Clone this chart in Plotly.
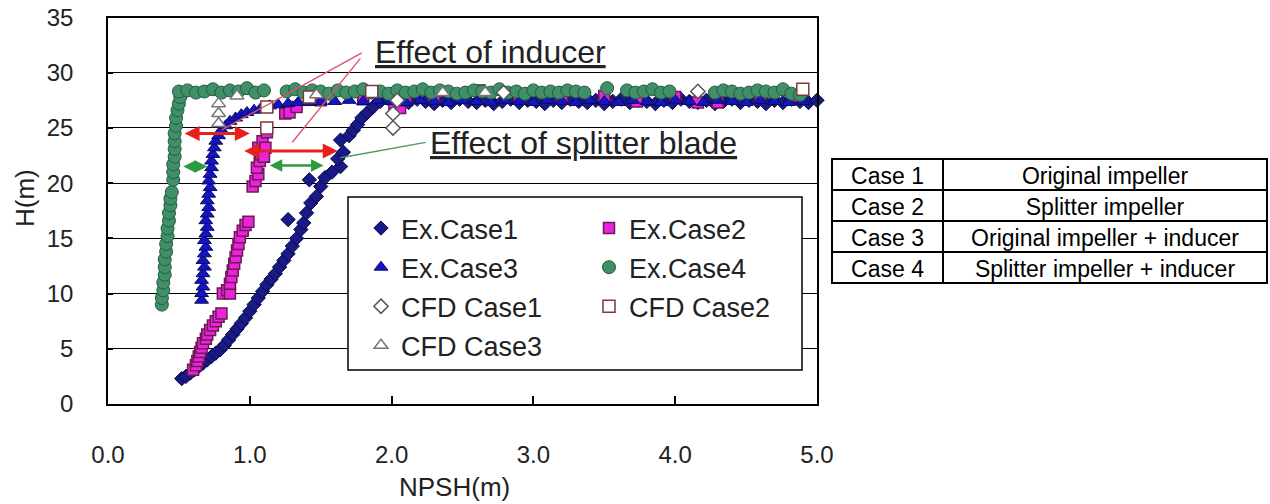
import plotly.graph_objects as go

W, H = 1270, 504
FONT = "Liberation Sans, Arial, sans-serif"

# ---------------- data ----------------
ex1_x = [0.52, 0.55, 0.58, 0.61, 0.64, 0.67, 0.70, 0.73, 0.76, 0.79,
         0.82, 0.85, 0.88, 0.91, 0.94, 0.97, 1.00, 1.03, 1.06, 1.09,
         1.12, 1.15, 1.18, 1.21, 1.24, 1.27, 1.30, 1.33, 1.27, 1.36,
         1.38, 1.40, 1.43, 1.47, 1.42, 1.50, 1.53, 1.58, 1.64, 1.62,
         1.66, 1.64, 1.70, 1.73, 1.76, 1.79, 1.83, 1.87, 1.92, 1.97,
         2.02, 2.06, 2.12, 2.18, 2.24, 2.30, 2.36, 2.42, 2.48, 2.54,
         2.60, 2.66, 2.72, 2.78, 2.84, 2.90, 2.96, 3.02, 3.08, 3.14,
         3.20, 3.26, 3.32, 3.38, 3.44, 3.50, 3.56, 3.62, 3.68, 3.74,
         3.80, 3.86, 3.92, 3.98, 4.04, 4.10, 4.16, 4.22, 4.28, 4.34,
         4.40, 4.46, 4.52, 4.58, 4.64, 4.70, 4.76, 4.82, 4.88, 4.94,
         5.00]
ex1_h = [2.3, 2.5, 2.8, 3.1, 3.4, 3.7, 4.0, 4.3, 4.6, 4.9,
         5.3, 5.8, 6.3, 6.8, 7.3, 7.8, 8.4, 9.0, 9.6, 10.2,
         10.8, 11.3, 11.8, 12.4, 13.0, 13.6, 14.3, 15.0, 16.7, 15.8,
         16.4, 17.3, 18.2, 18.8, 20.3, 19.7, 20.5, 21.0, 21.5, 22.2,
         22.8, 23.9, 24.3, 24.8, 25.3, 25.9, 26.4, 26.9, 27.4, 27.7,
         27.9, 27.5, 27.3, 27.6, 27.4, 27.2, 27.5, 27.3, 27.6, 27.4,
         27.3, 27.5, 27.2, 27.4, 27.6, 27.3, 27.5, 27.4, 27.2, 27.5,
         27.3, 27.6, 27.4, 27.3, 27.5, 27.2, 27.4, 27.6, 27.3, 27.5,
         27.4, 27.2, 27.5, 27.3, 27.6, 27.4, 27.3, 27.5, 27.2, 27.4,
         27.6, 27.3, 27.5, 27.4, 27.2, 27.5, 27.3, 27.6, 27.4, 27.3,
         27.5]

ex2_x = [0.60, 0.62, 0.63, 0.64, 0.65, 0.66, 0.67, 0.69, 0.70, 0.72,
         0.74, 0.76, 0.78, 0.80, 0.81, 0.84, 0.86, 0.86, 0.87, 0.88,
         0.89, 0.90, 0.91, 0.92, 0.93, 0.95, 0.97, 0.99, 1.02, 1.04,
         1.06, 1.05, 1.07, 1.08, 1.06, 1.09, 1.11, 1.10, 1.12, 1.25,
         1.28, 1.33, 1.50, 1.80, 2.02, 2.06, 2.10, 2.30, 2.62, 2.90,
         3.20, 3.50, 3.73, 4.00, 4.16, 4.30, 4.60, 4.85]
ex2_h = [3.1, 3.5, 3.9, 4.3, 4.7, 5.1, 5.5, 5.9, 6.3, 6.7,
         7.1, 7.5, 7.9, 8.2, 10.0, 10.3, 10.0, 10.9, 11.5, 12.1,
         12.7, 13.3, 13.9, 14.5, 15.1, 15.7, 16.2, 16.5, 19.7, 20.2,
         20.8, 21.4, 22.0, 22.6, 23.2, 23.8, 23.2, 22.4, 24.6, 26.3,
         26.4, 26.9, 27.5, 27.6, 27.2, 26.8, 27.5, 27.8, 28.4, 27.9,
         27.8, 27.9, 27.4, 27.8, 27.3, 27.3, 27.8, 27.9]

ex3_x = [0.66, 0.66, 0.67, 0.66, 0.67, 0.68, 0.67, 0.68, 0.69, 0.68,
         0.69, 0.70, 0.69, 0.70, 0.71, 0.70, 0.71, 0.72, 0.71, 0.72,
         0.73, 0.73, 0.74, 0.75, 0.76, 0.78, 0.80, 0.83, 0.86, 0.90,
         0.94, 0.98, 1.03, 1.08, 1.14, 1.20, 1.27, 1.34, 1.42, 1.50,
         1.60, 1.70, 1.80, 1.90, 2.00, 2.10, 2.20, 2.30, 2.40, 2.50,
         2.60, 2.70, 2.80, 2.90, 3.00, 3.10, 3.20, 3.30, 3.40, 3.50,
         3.60, 3.70, 3.80, 3.90, 4.00, 4.10, 4.20, 4.30, 4.40, 4.50,
         4.60, 4.70, 4.80, 4.90]
ex3_h = [9.4, 10.0, 10.6, 11.2, 11.8, 12.4, 13.0, 13.6, 14.2, 14.8,
         15.4, 16.0, 16.6, 17.2, 17.8, 18.4, 19.0, 19.6, 20.2, 20.8,
         21.4, 22.0, 22.6, 23.2, 23.8, 24.3, 24.8, 25.2, 25.6, 25.9,
         26.2, 26.4, 26.6, 26.8, 27.0, 27.1, 27.2, 27.3, 27.3, 27.4,
         27.4, 27.5, 27.4, 27.5, 27.4, 27.3, 27.5, 27.4, 27.3, 27.5,
         27.4, 27.3, 27.5, 27.4, 27.3, 27.5, 27.4, 27.3, 27.5, 27.4,
         27.3, 27.5, 27.4, 27.3, 27.5, 27.4, 27.3, 27.5, 27.4, 27.3,
         27.5, 27.4, 27.3, 27.4]

ex4_x = [0.38, 0.38, 0.39, 0.39, 0.40, 0.40, 0.40, 0.41, 0.41, 0.42,
         0.42, 0.43, 0.43, 0.44, 0.44, 0.45, 0.46, 0.46, 0.46, 0.47,
         0.47, 0.47, 0.47, 0.48, 0.48, 0.49, 0.50, 0.51, 0.50, 0.56,
         0.62, 0.68, 0.74, 0.80, 0.86, 0.92, 0.98, 1.04, 1.10, 1.26,
         1.32, 1.38, 1.44, 1.50, 1.56, 1.62, 1.68, 1.74, 1.80, 1.86,
         1.92, 1.98, 2.04, 2.10, 2.16, 2.22, 2.28, 2.34, 2.40, 2.46,
         2.52, 2.58, 2.64, 2.70, 2.76, 2.82, 2.88, 2.94, 3.00, 3.06,
         3.12, 3.18, 3.24, 3.30, 3.36, 3.52, 3.66, 3.72, 3.78, 3.84,
         3.90, 3.96, 4.28, 4.34, 4.40, 4.46, 4.52, 4.58, 4.64, 4.70,
         4.76, 4.82, 4.88]
ex4_h = [9.0, 9.6, 10.3, 11.0, 11.7, 12.4, 13.1, 13.8, 14.5, 15.2,
         15.9, 16.6, 17.3, 18.0, 18.6, 19.2, 20.3, 21.0, 21.7, 22.4,
         23.1, 23.8, 24.5, 25.2, 25.9, 26.6, 27.2, 27.8, 28.3, 28.4,
         28.2, 28.3, 28.5, 28.2, 28.4, 28.3, 28.6, 28.2, 28.4, 28.3,
         28.5, 28.2, 28.4, 28.3, 28.1, 28.4, 28.2, 28.3, 28.5, 28.2,
         28.3, 28.1, 28.4, 28.2, 28.3, 28.5, 28.2, 28.4, 28.3, 28.1,
         28.2, 28.4, 28.3, 28.2, 28.5, 28.2, 28.3, 28.1, 28.4, 28.2,
         28.3, 28.2, 28.4, 28.3, 28.2, 28.6, 28.4, 28.2, 28.3, 28.5,
         28.2, 28.3, 28.2, 28.4, 28.3, 28.1, 28.2, 28.4, 28.3, 28.2,
         28.5, 28.1, 28.0]

cfd1_x = [2.01, 2.01, 2.04, 2.79, 4.16]
cfd1_h = [25.0, 26.3, 27.5, 28.2, 28.3]

cfd2_x = [1.12, 1.12, 1.42, 1.86, 4.90]
cfd2_h = [25.0, 26.9, 27.8, 28.3, 28.5]

cfd3_x = [0.78, 0.78, 0.78, 0.91, 1.47, 2.36, 2.66]
cfd3_h = [25.4, 26.3, 27.2, 27.9, 28.0, 28.2, 28.2]

series_names = ["Ex.Case1", "Ex.Case2", "Ex.Case3", "Ex.Case4",
                "CFD Case1", "CFD Case2", "CFD Case3"]

# effect arrows: (x_start, x_end, H)
inducer_arrows = [(0.53, 1.00, 24.5), (0.95, 1.62, 22.9)]
splitter_arrows = [(0.52, 0.70, 21.5), (1.13, 1.52, 21.6)]

case_ids = ["Case 1", "Case 2", "Case 3", "Case 4"]
case_desc = ["Original impeller", "Splitter impeller",
             "Original impeller + inducer", "Splitter impeller + inducer"]

x_ticks = [0, 1, 2, 3, 4, 5]
y_ticks = [0, 5, 10, 15, 20, 25, 30, 35]

# ---------------- helpers (pixel -> paper) ----------------
def px(x):
    return x / W

def py(y):
    return 1 - y / H

PLOT_L, PLOT_R, PLOT_T, PLOT_B = 108, 817, 17.5, 404

fig = go.Figure()

styles = [
    dict(symbol="diamond", size=11, color="#1a1a86", line=dict(color="#08084a", width=1)),
    dict(symbol="square", size=11, color="#ec22dc", line=dict(color="#6a1c52", width=1.5)),
    dict(symbol="triangle-up", size=12, color="#1414c4", line=dict(color="#0a0a60", width=1)),
    dict(symbol="circle", size=13, color="#3f8f68", line=dict(color="#285a40", width=1)),
    dict(symbol="diamond", size=11, color="white", line=dict(color="#555555", width=1.5)),
    dict(symbol="square", size=12, color="white", line=dict(color="#7a3a3a", width=1.5)),
    dict(symbol="triangle-up", size=12, color="white", line=dict(color="#777777", width=1.5)),
]
data = [(ex1_x, ex1_h), (ex2_x, ex2_h), (ex3_x, ex3_h), (ex4_x, ex4_h),
        (cfd1_x, cfd1_h), (cfd2_x, cfd2_h), (cfd3_x, cfd3_h)]
legend_of = ["legend", "legend2", "legend", "legend2", "legend", "legend2", "legend"]

for name, (xs, hs), st, lg in zip(series_names, data, styles, legend_of):
    fig.add_trace(go.Scatter(
        x=xs, y=hs, mode="markers", name=name, marker=st,
        legend=lg, legendgroup=name, cliponaxis=False, hoverinfo="skip"))

# table
fig.add_trace(go.Table(
    domain=dict(x=[px(832), px(1267)], y=[py(284), py(159)]),
    columnwidth=[111, 324],
    header=dict(values=[case_ids[0], case_desc[0]], height=31, align="center",
                line=dict(color="black", width=1.5), fill=dict(color="white"),
                font=dict(family=FONT, size=23, color="black")),
    cells=dict(values=[case_ids[1:], case_desc[1:]], height=31, align="center",
               line=dict(color="black", width=1.5), fill=dict(color="white"),
               font=dict(family=FONT, size=23, color="black")),
))

shapes = []
# legend box
shapes.append(dict(type="rect", xref="paper", yref="paper",
                   x0=px(348), x1=px(802), y0=py(370), y1=py(197),
                   fillcolor="white", line=dict(color="black", width=1.5), layer="above"))
# pointer lines
shapes.append(dict(type="line", xref="x", yref="y", x0=1.79, y0=31.8, x1=0.80, y1=24.8,
                   line=dict(color="#e2506a", width=1.3)))
shapes.append(dict(type="line", xref="x", yref="y", x0=1.78, y0=31.3, x1=1.30, y1=23.7,
                   line=dict(color="#e2506a", width=1.3)))
shapes.append(dict(type="line", xref="x", yref="y", x0=2.24, y0=23.7, x1=1.64, y1=22.3,
                   line=dict(color="#4e9a60", width=1.3)))

annotations = []
for x0, x1, h in inducer_arrows:
    annotations.append(dict(x=x1, y=h, ax=x0, ay=h, xref="x", yref="y", axref="x", ayref="y",
                            text="", showarrow=True, arrowhead=2, arrowside="end+start",
                            arrowsize=1, arrowwidth=3, arrowcolor="#e8201c"))
for x0, x1, h in splitter_arrows:
    annotations.append(dict(x=x1, y=h, ax=x0, ay=h, xref="x", yref="y", axref="x", ayref="y",
                            text="", showarrow=True, arrowhead=2, arrowside="end+start",
                            arrowsize=1, arrowwidth=2.5, arrowcolor="#2e9a3e"))
annotations.append(dict(x=1.87, y=31.9, xref="x", yref="y", xanchor="left", yanchor="middle",
                        text="<u>Effect of inducer</u>", showarrow=False,
                        font=dict(family=FONT, size=32, color="#222222")))
annotations.append(dict(x=2.26, y=23.6, xref="x", yref="y", xanchor="left", yanchor="middle",
                        text="<u>Effect of splitter blade</u>", showarrow=False,
                        font=dict(family=FONT, size=32, color="#222222")))
# axis titles
annotations.append(dict(x=px(455), y=py(487), xref="paper", yref="paper", text="NPSH(m)",
                        xanchor="center", yanchor="middle",
                        showarrow=False, font=dict(family=FONT, size=26, color="#222222")))
annotations.append(dict(x=px(25), y=py(198), xref="paper", yref="paper", text="H(m)",
                        xanchor="center", yanchor="middle",
                        textangle=-90, showarrow=False,
                        font=dict(family=FONT, size=26, color="#222222")))

legend_common = dict(bgcolor="rgba(0,0,0,0)", borderwidth=0, orientation="v",
                     xanchor="left", yanchor="top", tracegroupgap=1,
                     font=dict(family=FONT, size=27, color="#222222"))

fig.update_layout(
    template="none",
    width=W, height=H,
    margin=dict(l=0, r=0, t=0, b=0),
    paper_bgcolor="white", plot_bgcolor="white",
    showlegend=True,
    legend=dict(x=px(361), y=py(204), **legend_common),
    legend2=dict(x=px(589), y=py(204), **legend_common),
    xaxis=dict(domain=[px(PLOT_L), px(PLOT_R)], range=[0, 5], tickvals=x_ticks,
               tickformat=".1f", showgrid=False, zeroline=False,
               showline=True, linecolor="black", linewidth=1.5, mirror=True,
               ticks="inside", ticklen=8, tickwidth=1.5, tickcolor="black",
               ticklabelstandoff=28, automargin=False,
               tickfont=dict(family=FONT, size=24, color="#222222")),
    yaxis=dict(domain=[py(PLOT_B), py(PLOT_T)], range=[0, 35], tickvals=y_ticks,
               showgrid=True, gridcolor="black", gridwidth=1.2, zeroline=False,
               showline=True, linecolor="black", linewidth=1.5, mirror=True,
               ticks="inside", ticklen=5, tickwidth=2, tickcolor="black",
               ticklabelstandoff=28, automargin=False,
               tickfont=dict(family=FONT, size=24, color="#222222")),
    shapes=shapes,
    annotations=annotations,
)

fig.write_html("out.html", config={"displayModeBar": False},
               post_script="document.body.style.margin='0px';")
